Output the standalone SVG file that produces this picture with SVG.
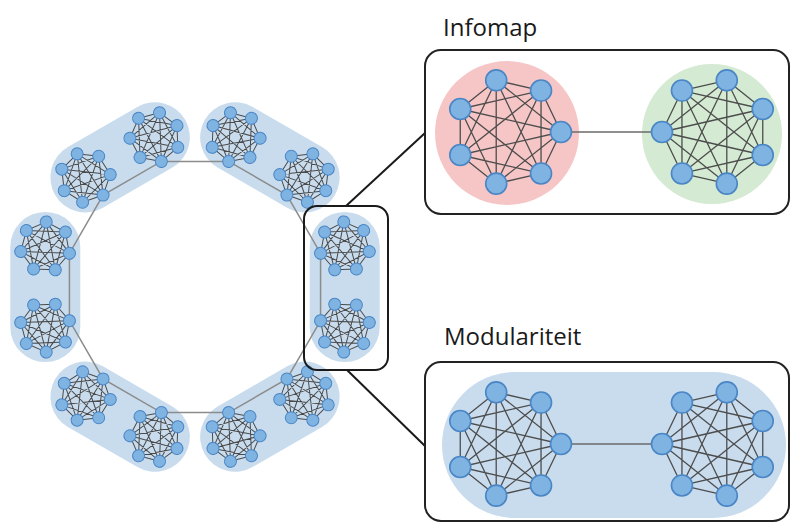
<svg xmlns="http://www.w3.org/2000/svg" xmlns:xlink="http://www.w3.org/1999/xlink" width="792" height="522" viewBox="0 0 792 522">
<style>
.cap{fill:none;stroke:#c8dcee;stroke-width:70;stroke-linecap:round}
.ring{fill:none;stroke:#8c8c8c;stroke-width:1.5}
.se{fill:none;stroke:#4a4a4a;stroke-width:1;stroke-linejoin:round}
.sn{fill:#7fb3e2;stroke:#4a86c5;stroke-width:1}
.be{fill:none;stroke:#4d4d4d;stroke-width:1.3;stroke-linejoin:round}
.bn{fill:#7fb3e2;stroke:#4a86c5;stroke-width:1.6}
.link{stroke:#6a6a6a;stroke-width:1.3}
.frame{fill:#fff;stroke:#222;stroke-width:2}
.zoom{stroke:#1a1a1a;stroke-width:2;fill:none}
.title{font-family:"Open Sans","Noto Sans",sans-serif;font-size:24px;fill:#1a1a1a}
</style>
<defs>
<g id="sc">
<path class="se" d="M-25 0L-15.59-19.55L5.56-24.37L22.52-10.85L22.52 10.85L5.56 24.37L-15.59 19.55Z M-25 0L5.56-24.37L22.52 10.85L-15.59 19.55L-15.59-19.55L22.52-10.85L5.56 24.37Z M-25 0L22.52-10.85L-15.59 19.55L5.56-24.37L5.56 24.37L-15.59-19.55L22.52 10.85Z"/>
<circle class="sn" cx="-25" cy="0" r="6"/>
<circle class="sn" cx="-15.59" cy="-19.55" r="6"/>
<circle class="sn" cx="5.56" cy="-24.37" r="6"/>
<circle class="sn" cx="22.52" cy="-10.85" r="6"/>
<circle class="sn" cx="22.52" cy="10.85" r="6"/>
<circle class="sn" cx="5.56" cy="24.37" r="6"/>
<circle class="sn" cx="-15.59" cy="19.55" r="6"/>
</g>
<g id="bc">
<path class="be" d="M-53 0L-33.04-41.44L11.79-51.67L47.75-23L47.75 23L11.79 51.67L-33.04 41.44Z M-53 0L11.79-51.67L47.75 23L-33.04 41.44L-33.04-41.44L47.75-23L11.79 51.67Z M-53 0L47.75-23L-33.04 41.44L11.79-51.67L11.79 51.67L-33.04-41.44L47.75 23Z"/>
<circle class="bn" cx="-53" cy="0" r="10.5"/>
<circle class="bn" cx="-33.04" cy="-41.44" r="10.5"/>
<circle class="bn" cx="11.79" cy="-51.67" r="10.5"/>
<circle class="bn" cx="47.75" cy="-23" r="10.5"/>
<circle class="bn" cx="47.75" cy="23" r="10.5"/>
<circle class="bn" cx="11.79" cy="51.67" r="10.5"/>
<circle class="bn" cx="-33.04" cy="41.44" r="10.5"/>
</g>
</defs>
<rect width="792" height="522" fill="#fff"/>
<g id="pair-backgrounds">
<line class="cap" x1="344.72" y1="246.88" x2="344.72" y2="327.12"/>
<line class="cap" x1="304.6" y1="396.6" x2="235.12" y2="436.72"/>
<line class="cap" x1="154.88" y1="436.72" x2="85.4" y2="396.6"/>
<line class="cap" x1="45.28" y1="327.12" x2="45.28" y2="246.88"/>
<line class="cap" x1="85.4" y1="177.4" x2="154.88" y2="137.28"/>
<line class="cap" x1="235.12" y1="137.28" x2="304.6" y2="177.4"/>
</g>
<g id="connectors">
<polygon class="ring" points="320.57,320.65 286.92,378.92 228.65,412.57 161.35,412.57 103.08,378.92 69.43,320.65 69.43,253.35 103.08,195.08 161.35,161.43 228.65,161.43 286.92,195.08 320.57,253.35"/>
<line class="zoom" x1="346" y1="206" x2="425" y2="133"/>
<line class="zoom" x1="347" y1="370" x2="425" y2="446"/>
</g>
<g id="ring-clusters">
<g id="c15"><use xlink:href="#sc" href="#sc" transform="translate(344.72 327.12) rotate(15)"/></g>
<g id="c45"><use xlink:href="#sc" href="#sc" transform="translate(304.6 396.6) rotate(45)"/></g>
<g id="c75"><use xlink:href="#sc" href="#sc" transform="translate(235.12 436.72) rotate(75)"/></g>
<g id="c105"><use xlink:href="#sc" href="#sc" transform="translate(154.88 436.72) rotate(105)"/></g>
<g id="c135"><use xlink:href="#sc" href="#sc" transform="translate(85.4 396.6) rotate(135)"/></g>
<g id="c165"><use xlink:href="#sc" href="#sc" transform="translate(45.28 327.12) rotate(165)"/></g>
<g id="c195"><use xlink:href="#sc" href="#sc" transform="translate(45.28 246.88) rotate(195)"/></g>
<g id="c225"><use xlink:href="#sc" href="#sc" transform="translate(85.4 177.4) rotate(225)"/></g>
<g id="c255"><use xlink:href="#sc" href="#sc" transform="translate(154.88 137.28) rotate(255)"/></g>
<g id="c285"><use xlink:href="#sc" href="#sc" transform="translate(235.12 137.28) rotate(285)"/></g>
<g id="c315"><use xlink:href="#sc" href="#sc" transform="translate(304.6 177.4) rotate(315)"/></g>
<g id="c345"><use xlink:href="#sc" href="#sc" transform="translate(344.72 246.88) rotate(345)"/></g>
</g>
<g id="highlight">
<rect x="304" y="206" width="84" height="164" rx="13" class="zoom"/>
</g>
<g id="infomap-panel">
<text class="title" x="443" y="36">Infomap</text>
<rect class="frame" x="425" y="50" width="364" height="164" rx="16"/>
<circle cx="507" cy="133" r="72" fill="#f6c6c6"/>
<circle cx="712" cy="134" r="70" fill="#d4ead2"/>
<line class="link" x1="561" y1="132" x2="662" y2="132"/>
<g id="infomap-red"><use xlink:href="#bc" href="#bc" transform="translate(508 132) rotate(180)"/></g>
<g id="infomap-green"><use xlink:href="#bc" href="#bc" transform="translate(715 132)"/></g>
</g>
<g id="modularity-panel">
<text class="title" x="444" y="345">Modulariteit</text>
<rect class="frame" x="425" y="362" width="364" height="159" rx="16"/>
<rect x="442" y="372" width="344" height="146" rx="73" fill="#c8dcee"/>
<line class="link" x1="561" y1="444" x2="662" y2="444"/>
<g id="mod-left"><use xlink:href="#bc" href="#bc" transform="translate(508 444) rotate(180)"/></g>
<g id="mod-right"><use xlink:href="#bc" href="#bc" transform="translate(715 444)"/></g>
</g>
</svg>
